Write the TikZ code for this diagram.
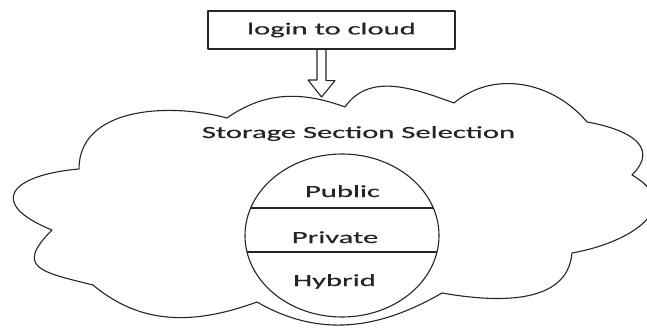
\documentclass[tikz,border=0pt]{standalone}
\usepackage{fontspec}
\setmainfont{Carlito}[FakeBold=0.3]
\usepackage{tikz}
\usetikzlibrary{calc}

\begin{document}
\begin{tikzpicture}[x=1pt,y=1pt,line join=round,
  txt/.style={font=\fontsize{17}{20}\selectfont,text=black!86,xscale=1.8,inner sep=0pt},
  outline/.style={line width=1.1pt,draw=black!85}]
  \useasboundingbox[fill=white] (0,0) rectangle (647,327);
  \node[txt,draw=black!85,line width=1.4pt,minimum width=137.2pt,minimum height=38pt] (login) at (331.5,297) {login to cloud};
  \coordinate (tip) at (321.5,230);
  \draw[outline] ([xshift=-5.5pt]login.south) -- ++(0,-31) -- ++(9,0) -- (tip) -- ++(-13.5,17) -- ++(9,0) -- ++(0,31);
  \draw[outline] (79,158) to[out=90,in=165] (227,209)
    to[out=35,in=160] (345,220)
    to[out=55,in=160] (454,224)
    to[out=40,in=130] (587,205)
    to[out=-10,in=45,looseness=1.5] (632,152)
    to[out=-30,in=10,looseness=1.6] (572,74)
    to[out=-95,in=-10] (442,34)
    to[out=210,in=-30] (257,25)
    to[out=200,in=-40] (93,42)
    to[out=166,in=225,looseness=2] (52,97)
    to[out=158,in=185,looseness=2.7] (79,158);
  \draw[outline] (342,91.5) ellipse [x radius=97,y radius=81.5];
  \begin{scope}
    \clip (342,91.5) ellipse [x radius=97,y radius=81.5];
    \draw[outline] (240,119) -- (445,119) (240,75) -- (445,75);
  \end{scope}
  \node[txt,anchor=base] (storage) at (358.5,189) {Storage Section Selection};
  \node[txt,anchor=base] (public) at (342.5,130) {Public};
  \node[txt,anchor=base] (private) at (335,84) {Private};
  \node[txt,anchor=base] (hybrid) at (334.5,41) {Hybrid};
\end{tikzpicture}
\end{document}
